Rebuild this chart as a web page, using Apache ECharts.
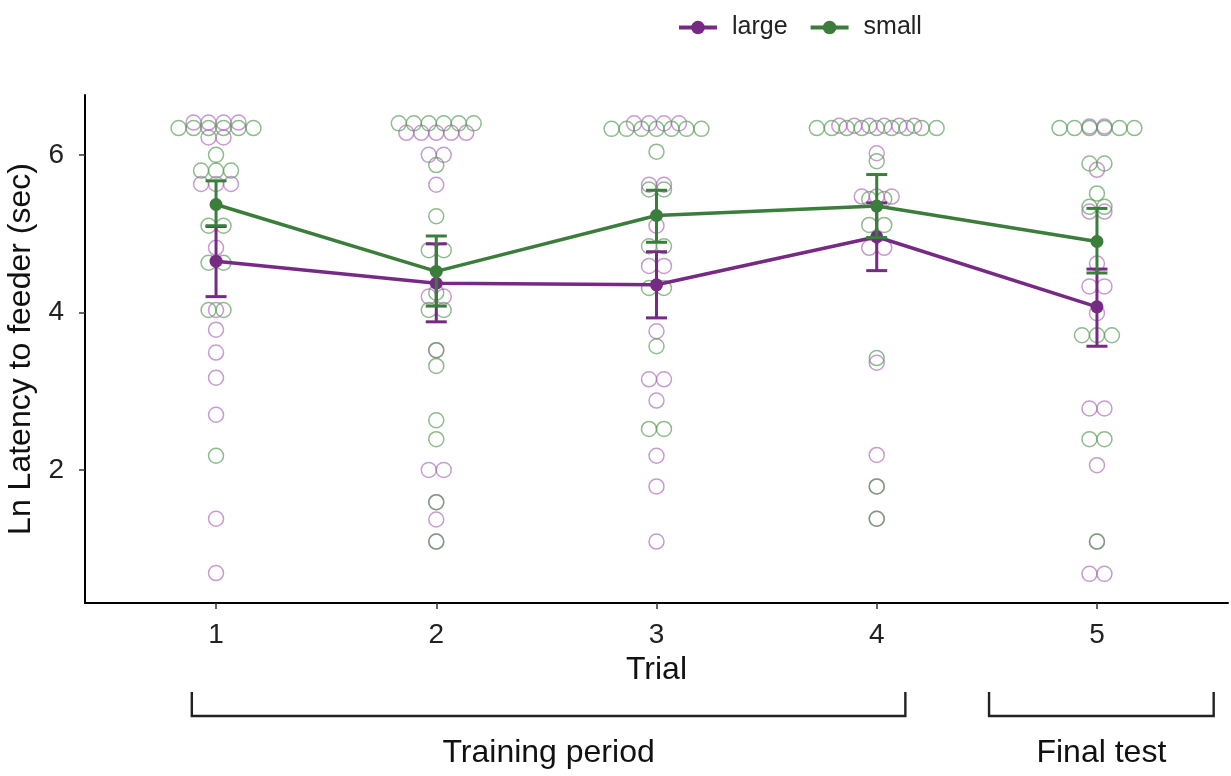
<!DOCTYPE html>
<html>
<head>
<meta charset="utf-8">
<script src="https://cdn.jsdelivr.net/npm/echarts@6/dist/echarts.min.js"></script>
<style>
  html, body { margin: 0; padding: 0; background: #fff; }
  #main { width: 1231px; height: 776px; }
</style>
</head>
<body>
<div id="main"></div>
<script>
// trial numbers on the x axis
var trials = [1, 2, 3, 4, 5];
var tickY = [2, 4, 6];

// group means and error bar limits (large / small)
var largeMean = [4.65, 4.37, 4.35, 4.96, 4.07];
var largeLow  = [4.20, 3.88, 3.93, 4.53, 3.57];
var largeHigh = [5.09, 4.87, 4.77, 5.39, 4.55];
var smallMean = [5.37, 4.52, 5.23, 5.35, 4.90];
var smallLow  = [5.10, 4.08, 4.89, 4.95, 4.50];
var smallHigh = [5.67, 4.97, 5.55, 5.75, 5.32];

// individual values per trial (repeated values are stacked side by side)
var largeDots = [
  [6.41, 6.41, 6.41, 6.41, 6.22, 6.22, 5.63, 5.63, 5.63, 4.82, 4.03, 3.78, 3.49, 3.17, 2.70, 1.38, 0.69],
  [6.28, 6.28, 6.28, 6.28, 6.28, 6.00, 6.00, 5.62, 4.20, 4.20, 3.52, 2.00, 2.00, 1.59, 1.37, 1.09],
  [6.40, 6.40, 6.40, 6.40, 5.62, 5.62, 5.10, 4.59, 4.59, 3.76, 3.15, 3.15, 2.88, 2.18, 1.79, 1.09],
  [6.37, 6.37, 6.37, 6.37, 6.37, 6.37, 6.02, 5.47, 5.47, 5.47, 4.82, 4.82, 3.36, 2.19, 1.79, 1.38],
  [6.36, 6.36, 5.81, 5.28, 5.28, 4.62, 4.33, 4.33, 3.99, 2.78, 2.78, 2.06, 1.09, 0.68, 0.68]
];
var smallDots = [
  [6.34, 6.34, 6.34, 6.34, 6.34, 6.34, 6.00, 5.80, 5.80, 5.80, 5.10, 5.10, 4.63, 4.63, 4.03, 4.03, 2.18],
  [6.40, 6.40, 6.40, 6.40, 6.40, 6.40, 5.87, 5.22, 4.79, 4.79, 4.25, 4.03, 4.03, 3.52, 3.32, 2.63, 2.39, 1.59, 1.09],
  [6.33, 6.33, 6.33, 6.33, 6.33, 6.33, 6.33, 6.04, 5.56, 5.56, 4.84, 4.84, 4.31, 4.31, 3.57, 2.52, 2.52],
  [6.34, 6.34, 6.34, 6.34, 6.34, 6.34, 6.34, 6.34, 6.34, 5.92, 5.44, 5.44, 5.11, 5.11, 3.42, 1.79, 1.38],
  [6.34, 6.34, 6.34, 6.34, 6.34, 6.34, 5.89, 5.89, 5.51, 5.34, 5.34, 3.71, 3.71, 3.71, 2.39, 2.39, 1.09]
];

// bracket annotations under the axis
var periodLabels = ['Training period', 'Final test'];
var periodRanges = [[0.89, 4.13], [4.51, 5.53]];

var purple = '#762a83';
var green = '#3b7d3b';
var dotStep = 0.068; // horizontal step between stacked dots, in trial units

function stackDots(groups) {
  var out = [];
  groups.forEach(function (vals, t) {
    var counts = {};
    vals.forEach(function (v) { counts[v] = (counts[v] || 0) + 1; });
    Object.keys(counts).forEach(function (k) {
      var n = counts[k];
      for (var i = 0; i < n; i++) {
        out.push([trials[t] + (i - (n - 1) / 2) * dotStep, +k]);
      }
    });
  });
  return out;
}

function errData(low, high) {
  return trials.map(function (t, i) { return [t, low[i], high[i]]; });
}

function errRender(color) {
  return function (params, api) {
    var lo = api.coord([api.value(0), api.value(1)]);
    var hi = api.coord([api.value(0), api.value(2)]);
    var w = 10.5;
    var st = { stroke: color, lineWidth: 3 };
    return {
      type: 'group',
      children: [
        { type: 'line', shape: { x1: lo[0], y1: lo[1], x2: hi[0], y2: hi[1] }, style: st },
        { type: 'line', shape: { x1: lo[0] - w, y1: lo[1], x2: lo[0] + w, y2: lo[1] }, style: st },
        { type: 'line', shape: { x1: hi[0] - w, y1: hi[1], x2: hi[0] + w, y2: hi[1] }, style: st }
      ]
    };
  };
}

var dom = document.getElementById('main');
var myChart = echarts.init(dom);
var font = 'Liberation Sans, Arial, sans-serif';

myChart.setOption({
  backgroundColor: '#fff',
  animation: false,
  textStyle: { fontFamily: font },
  legend: {
    data: ['large', 'small'],
    left: 672,
    top: 10,
    itemWidth: 38,
    itemHeight: 17,
    itemGap: 21,
    lineStyle: { width: 4 },
    textStyle: { fontSize: 25, color: '#222', fontFamily: font, padding: [0, 0, 0, 10] }
  },
  grid: { left: 85, right: 3, top: 95, bottom: 173, containLabel: false, outerBoundsMode: 'none' },
  xAxis: {
    type: 'value',
    min: 0.405,
    max: 5.595,
    name: 'Trial',
    nameLocation: 'middle',
    nameGap: 49,
    nameTextStyle: { fontSize: 32, color: '#111', fontFamily: font },
    splitLine: { show: false },
    axisLine: { show: true, onZero: false, lineStyle: { color: '#000', width: 2 } },
    axisTick: { show: true, length: 6, lineStyle: { color: '#333', width: 1.5 }, customValues: trials },
    axisLabel: { fontSize: 28, color: '#222', margin: 18, customValues: trials }
  },
  yAxis: {
    type: 'value',
    min: 0.31,
    max: 6.76,
    name: 'Ln Latency to feeder (sec)',
    nameLocation: 'middle',
    nameGap: 39,
    nameTextStyle: { fontSize: 32, color: '#111', fontFamily: font },
    splitLine: { show: false },
    axisLine: { show: true, onZero: false, lineStyle: { color: '#000', width: 2 } },
    axisTick: { show: true, length: 6, lineStyle: { color: '#333', width: 1.5 }, customValues: tickY },
    axisLabel: { fontSize: 28, color: '#222', margin: 21, customValues: tickY }
  },
  series: [
    {
      name: 'large dots',
      type: 'scatter',
      data: stackDots(largeDots),
      symbol: 'circle',
      symbolSize: 15,
      itemStyle: { color: 'rgba(0,0,0,0)', borderColor: 'rgba(160,90,175,0.75)', borderWidth: 1.5 },
      z: 2
    },
    {
      name: 'small dots',
      type: 'scatter',
      data: stackDots(smallDots),
      symbol: 'circle',
      symbolSize: 15,
      itemStyle: { color: 'rgba(0,0,0,0)', borderColor: 'rgba(90,155,90,0.85)', borderWidth: 1.5 },
      z: 3
    },
    {
      name: 'large err',
      type: 'custom',
      data: errData(largeLow, largeHigh),
      renderItem: errRender(purple),
      z: 4
    },
    {
      name: 'large',
      type: 'line',
      data: trials.map(function (t, i) { return [t, largeMean[i]]; }),
      symbol: 'circle',
      symbolSize: 13,
      color: purple,
      lineStyle: { color: purple, width: 3.5 },
      itemStyle: { color: purple },
      z: 5
    },
    {
      name: 'small err',
      type: 'custom',
      data: errData(smallLow, smallHigh),
      renderItem: errRender(green),
      z: 6
    },
    {
      name: 'small',
      type: 'line',
      data: trials.map(function (t, i) { return [t, smallMean[i]]; }),
      symbol: 'circle',
      symbolSize: 13,
      color: green,
      lineStyle: { color: green, width: 3.5 },
      itemStyle: { color: green },
      z: 7
    }
  ]
});

// brackets for the trial periods, placed from the x axis scale
var bracketTop = 692, bracketBottom = 716, labelY = 753;
var graphics = [];
periodRanges.forEach(function (r, i) {
  var x1 = myChart.convertToPixel({ xAxisIndex: 0 }, r[0]);
  var x2 = myChart.convertToPixel({ xAxisIndex: 0 }, r[1]);
  graphics.push({
    type: 'polyline',
    shape: { points: [[x1, bracketTop], [x1, bracketBottom], [x2, bracketBottom], [x2, bracketTop]] },
    style: { stroke: '#222', lineWidth: 2.4, fill: null }
  });
  graphics.push({
    type: 'text',
    x: (x1 + x2) / 2,
    y: labelY,
    style: {
      text: periodLabels[i],
      fontSize: 32,
      fontFamily: font,
      fill: '#111',
      align: 'center',
      verticalAlign: 'middle'
    }
  });
});
myChart.setOption({ graphic: graphics });

window.addEventListener('resize', function () {
  myChart.resize();
});
</script>
</body>
</html>
